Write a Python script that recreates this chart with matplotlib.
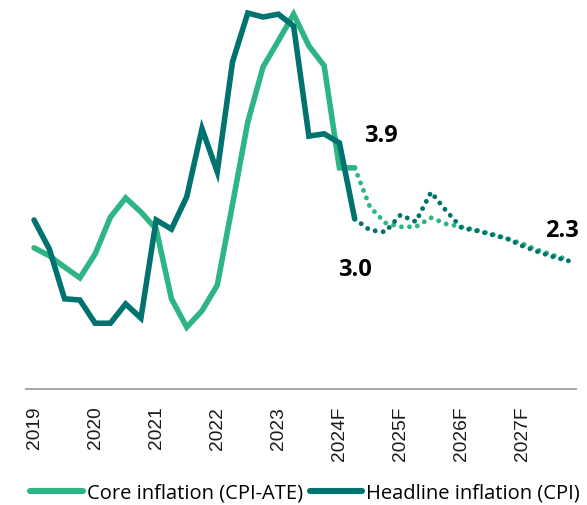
import matplotlib
matplotlib.use("Agg")
import matplotlib.pyplot as plt
from matplotlib.lines import Line2D
import numpy as np

# ---- data (quarterly, 2019Q1 .. 2027Q4) ----
year_labels = ["2019", "2020", "2021", "2022", "2023", "2024F", "2025F", "2026F", "2027F"]

core_actual = [2.49, 2.35, 2.15, 1.96, 2.38, 3.03, 3.37, 3.12,
               2.82, 1.59, 1.09, 1.38, 1.83, 3.26, 4.71, 5.68,
               6.14, 6.61, 6.05, 5.70, 3.90, 3.90]
core_forecast = [3.90, 3.21, 2.93, 2.86, 2.86, 3.02, 2.91, 2.86,
                 2.80, 2.73, 2.65, 2.56, 2.45, 2.36, 2.28]

headline_actual = [2.98, 2.47, 1.59, 1.57, 1.16, 1.16, 1.50, 1.25,
                   2.98, 2.82, 3.39, 4.59, 3.83, 5.77, 6.63, 6.56,
                   6.61, 6.40, 4.46, 4.50, 4.34, 3.00]
headline_forecast = [3.00, 2.80, 2.77, 3.07, 2.95, 3.47, 3.14, 2.84,
                     2.79, 2.72, 2.65, 2.52, 2.42, 2.33, 2.26]

core_color = "#2db683"
head_color = "#00736e"

x_act = np.arange(len(core_actual))
x_fc = np.arange(len(core_actual) - 1, len(core_actual) - 1 + len(core_forecast))

fig = plt.figure(figsize=(5.87, 5.06), dpi=100)
ax = fig.add_axes([26.4 / 587, (506 - 390) / 506, 549.7 / 587, 385.6 / 506])

lw = 4.0
ax.plot(x_act, core_actual, color=core_color, lw=lw, solid_capstyle="round", solid_joinstyle="miter", zorder=3)
ax.plot(x_act, headline_actual, color=head_color, lw=lw, solid_capstyle="round", solid_joinstyle="miter", zorder=4)
dot = (0, (0.01, 1.65))
ax.plot(x_fc, core_forecast, color=core_color, lw=3.5, linestyle=dot, dash_capstyle="round", zorder=3)
ax.plot(x_fc, headline_forecast, color=head_color, lw=3.5, linestyle=dot, dash_capstyle="round", zorder=4)

ann_font = dict(family=["Open Sans", "DejaVu Sans"], fontweight="bold", fontsize=17, color="black")
ax.text(x_act[-1] + 1.7, core_actual[-1] + 0.58, f"{core_actual[-1]:.1f}", ha="center", va="center", **ann_font)
ax.text(x_act[-1], headline_actual[-1] - 0.88, f"{headline_actual[-1]:.1f}", ha="center", va="center", **ann_font)
ax.text(x_fc[-1] - 0.45, headline_forecast[-1] + 0.55, "2.3", ha="center", va="center", **ann_font)

ax.set_xlim(-0.5, 35.5)
ax.set_ylim(0, 6.8)
ax.set_yticks([])
ax.set_xticks(np.arange(0, 36, 4))
ax.set_xticklabels(year_labels, rotation=90, fontsize=13.8, family=["Liberation Sans", "DejaVu Sans"], color="#1a1a1a")
ax.tick_params(axis="x", length=0, pad=12)
for s in ["top", "right", "left"]:
    ax.spines[s].set_visible(False)
ax.spines["bottom"].set_color("#a6a6a6")
ax.spines["bottom"].set_linewidth(1.4)

handles = [Line2D([], [], color=core_color, lw=4.4, solid_capstyle="round"),
           Line2D([], [], color=head_color, lw=4.4, solid_capstyle="round")]
fig.legend(handles, ["Core inflation (CPI-ATE)", "Headline inflation (CPI)"],
           loc="center", bbox_to_anchor=(305 / 587, 1 - 494 / 506), ncol=2, frameon=False,
           handlelength=2.6, handletextpad=0.2, columnspacing=0.35, borderpad=0,
           prop=dict(family=["Open Sans", "DejaVu Sans"], size=14.5))

fig.savefig("out.png", dpi=100)
